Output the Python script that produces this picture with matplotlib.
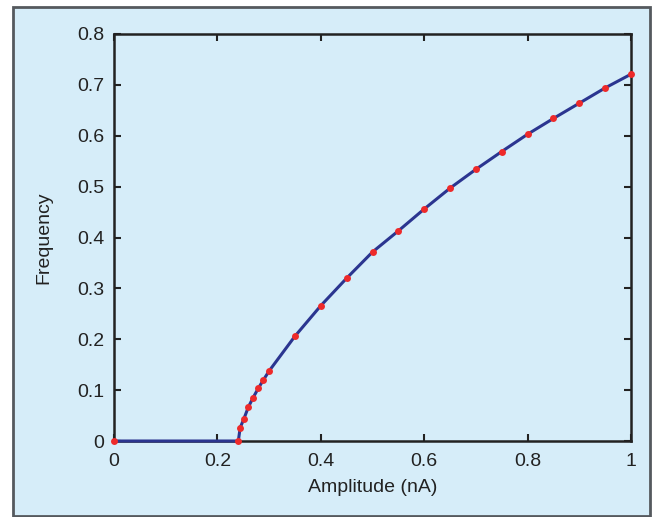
import matplotlib
matplotlib.use("Agg")
import matplotlib.pyplot as plt
from matplotlib.patches import Rectangle

amplitude = [0.0, 0.2405, 0.244, 0.251, 0.260, 0.269, 0.279, 0.289, 0.300, 0.35, 0.40,
             0.45, 0.50, 0.55, 0.60, 0.65, 0.70, 0.75, 0.80, 0.85, 0.90, 0.95, 1.00]
frequency = [0.0, 0.0, 0.026, 0.043, 0.067, 0.085, 0.1035, 0.120, 0.1376, 0.206, 0.266,
             0.320, 0.3715, 0.413, 0.456, 0.497, 0.534, 0.569, 0.603, 0.634, 0.664, 0.694, 0.721]
xticks = [0, 0.2, 0.4, 0.6, 0.8, 1]
xticklabels = ["0", "0.2", "0.4", "0.6", "0.8", "1"]
yticks = [0, 0.1, 0.2, 0.3, 0.4, 0.5, 0.6, 0.7, 0.8]
yticklabels = ["0", "0.1", "0.2", "0.3", "0.4", "0.5", "0.6", "0.7", "0.8"]

plt.rcParams['font.family'] = ['Liberation Sans', 'DejaVu Sans']
W, H = 652, 517
fig = plt.figure(figsize=(W/100, H/100), dpi=100, facecolor='white')
bg = '#d6edf9'
rect = Rectangle((13/W, 1-516/H), (650-13)/W, (516-7)/H,
                 transform=fig.transFigure, facecolor=bg,
                 edgecolor='#55595e', linewidth=2, zorder=-10)
fig.add_artist(rect)

ax = fig.add_axes([114/W, 1-441/H, (631-114)/W, (441-34)/H])
ax.set_zorder(1)
ax.set_facecolor(bg)
ax.plot(amplitude, frequency, color='#2b3590', linewidth=2.2, zorder=3, clip_on=False)
ax.plot(amplitude, frequency, linestyle='none', marker='o', markersize=5,
        color='#ee2a2a', markeredgewidth=0, zorder=4, clip_on=False)
ax.set_xlim(0, 1)
ax.set_ylim(0, 0.8)
ax.set_xticks(xticks)
ax.set_xticklabels(xticklabels)
ax.set_yticks(yticks)
ax.set_yticklabels(yticklabels)
ax.tick_params(direction='in', length=5, width=1.5, labelsize=14, colors='#222222',
               top=True, right=True)
ax.tick_params(axis='x', pad=9)
ax.tick_params(axis='y', pad=7)
for s in ax.spines.values():
    s.set_linewidth(1.8)
    s.set_color('#222222')
ax.set_xlabel("Amplitude (nA)", fontsize=14, color='#222222', labelpad=6)
ax.set_ylabel("Frequency", fontsize=14, color='#222222', labelpad=18)
fig.savefig("out.png", dpi=100, facecolor='white')
